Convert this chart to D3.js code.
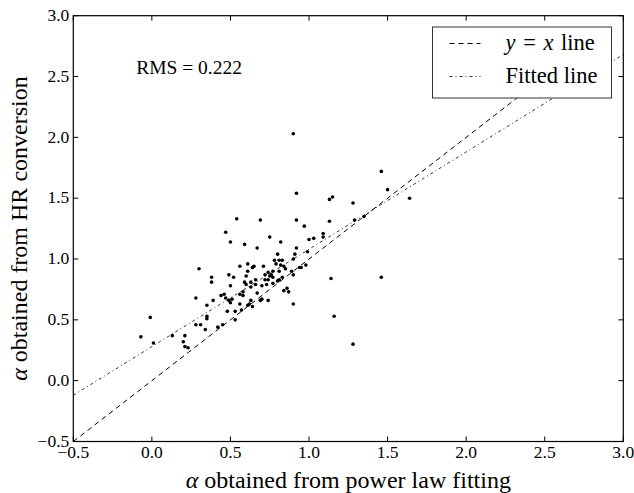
<!DOCTYPE html>
<html lang="en">
<head>
<meta charset="utf-8">
<title>alpha comparison</title>
<script src="https://d3js.org/d3.v7.min.js"></script>
<style>
    body { margin: 0; background: #fff; }
    svg text { font-family: "Liberation Serif", "Times New Roman", Times, serif; fill: #000; }
    .tick-label { font-size: 17.5px; }
    .axis-title { font-size: 24px; }
    .legend-text { font-size: 22.5px; }
</style>
</head>
<body>
<script>

// values
let alphaPowerLaw = [
    0.90, 0.92, 1.13, 1.15, 0.54, 0.69, 0.92, 0.97, 1.13, 0.47,
    0.50, 0.59, 0.75, 0.82, 0.67, 1.00, 1.03, 1.09, 1.09, 0.92,
    0.91, 0.99, 0.80, 0.30, 0.38, 0.38, 0.56, 0.61, 0.64, 0.65,
    0.71, 0.78, 0.81, 0.83, 0.82, 0.84, 0.85, 0.90, 0.89, 0.94,
    0.95, 0.98, 0.49, 0.52, 0.50, 0.61, 0.60, 0.59, 0.60, 0.63,
    0.66, 0.66, 0.63, 0.70, 0.72, 0.73, 0.74, 0.75, 0.76, 0.77,
    0.74, 0.72, 0.77, 0.80, 0.81, 0.83, 0.84, 0.86, 0.87, 0.90,
    0.90, 0.44, 0.46, 0.47, 0.49, 0.50, 0.51, 0.56, 0.58, 0.58,
    0.56, 0.48, 0.53, 0.53, 0.61, 0.62, 0.63, 0.64, 0.69, 0.70,
    0.67, 0.74, 0.57, 0.35, 0.39, 0.28, 0.35, 0.35, 0.34, 0.28,
    0.31, 0.42, 0.45, -0.01, 0.13, 0.21, 0.20, 0.21, 0.23, -0.07,
    0.01, 1.14, 1.16, 1.46, 1.50, 1.64, 1.28, 1.29, 1.35, 1.46,
    1.28, 0.77, 0.81, 0.79
];
let alphaHR = [
    2.03, 1.54, 1.49, 1.51, 1.33, 1.32, 1.32, 1.27, 1.31, 1.22,
    1.14, 1.12, 1.18, 1.14, 1.09, 1.16, 1.17, 1.21, 1.18, 1.09,
    1.04, 1.06, 1.04, 0.92, 0.85, 0.81, 0.94, 0.96, 0.93, 0.94,
    0.94, 0.99, 0.99, 0.99, 0.95, 0.94, 0.92, 1.00, 0.90, 0.93,
    0.93, 0.95, 0.87, 0.85, 0.78, 0.90, 0.86, 0.81, 0.79, 0.81,
    0.83, 0.79, 0.77, 0.78, 0.83, 0.79, 0.83, 0.86, 0.87, 0.85,
    0.89, 0.87, 0.80, 0.82, 0.83, 0.85, 0.74, 0.76, 0.73, 0.63,
    0.87, 0.70, 0.71, 0.68, 0.66, 0.64, 0.67, 0.71, 0.73, 0.70,
    0.63, 0.57, 0.57, 0.50, 0.62, 0.63, 0.66, 0.61, 0.66, 0.67,
    0.72, 0.66, 0.58, 0.62, 0.66, 0.68, 0.53, 0.51, 0.42, 0.46,
    0.46, 0.44, 0.46, 0.52, 0.37, 0.37, 0.32, 0.28, 0.27, 0.36,
    0.31, 0.84, 0.53, 1.72, 1.57, 1.50, 1.46, 1.32, 1.35, 0.85,
    0.30, 0.90, 0.90, 0.96
];

let xTicks = [-0.5, 0.0, 0.5, 1.0, 1.5, 2.0, 2.5, 3.0];
let yTicks = [-0.5, 0.0, 0.5, 1.0, 1.5, 2.0, 2.5, 3.0];
let axisMin = -0.5, axisMax = 3.0;

// y = x reference runs up under the legend box
let identityRange = [-0.5, 2.7];

// fitted line y = a*x + b
let fitSlope = 0.80,
    fitIntercept = 0.28;
let rmsText = "RMS = 0.222";

let realW = 634, realH = 493;
let margin = { top: 15.7, right: 10.7, bottom: 51.5, left: 73.3 };
let w = realW - margin.left - margin.right,
    h = realH - margin.top - margin.bottom;

let xScale = d3.scaleLinear().domain([axisMin, axisMax]).range([0, w]);
let yScale = d3.scaleLinear().domain([axisMin, axisMax]).range([h, 0]);

let fmt = d => d3.format(".1f")(d).replace("-", "\u2212");

let svg = d3.select("body")
    .append("svg")
    .attr("width", realW)
    .attr("height", realH)
    .style("display", "block");

let g = svg.append("g")
    .attr("transform", "translate(" + margin.left + "," + margin.top + ")");

// reference lines
let line = d3.line().x(d => xScale(d[0])).y(d => yScale(d[1]));

g.append("path")
    .datum(identityRange.map(x => [x, x]))
    .attr("d", line)
    .attr("fill", "none")
    .attr("stroke", "#000")
    .attr("stroke-width", 1)
    .attr("stroke-dasharray", "5,4");

g.append("path")
    .datum([axisMin, axisMax].map(x => [x, fitSlope * x + fitIntercept]))
    .attr("d", line)
    .attr("fill", "none")
    .attr("stroke", "#000")
    .attr("stroke-width", 0.8)
    .attr("stroke-dasharray", "3,3,1,3");

// points
g.selectAll("circle.pt")
    .data(alphaPowerLaw.map((x, i) => [x, alphaHR[i]]))
    .enter()
    .append("circle")
    .attr("class", "pt")
    .attr("cx", d => xScale(d[0]))
    .attr("cy", d => yScale(d[1]))
    .attr("r", 1.8)
    .attr("fill", "#000");

// ticks on all four sides, pointing inward
let tickLen = 5;
let ticks = g.append("g").attr("stroke", "#000").attr("stroke-width", 1);
xTicks.forEach(t => {
    let x = xScale(t);
    ticks.append("line").attr("x1", x).attr("x2", x).attr("y1", h).attr("y2", h - tickLen);
    ticks.append("line").attr("x1", x).attr("x2", x).attr("y1", 0).attr("y2", tickLen);
});
yTicks.forEach(t => {
    let y = yScale(t);
    ticks.append("line").attr("x1", 0).attr("x2", tickLen).attr("y1", y).attr("y2", y);
    ticks.append("line").attr("x1", w).attr("x2", w - tickLen).attr("y1", y).attr("y2", y);
});

g.selectAll("text.xt")
    .data(xTicks)
    .enter()
    .append("text")
    .attr("class", "tick-label xt")
    .attr("x", d => xScale(d))
    .attr("y", h + 17)
    .attr("text-anchor", "middle")
    .text(fmt);

g.selectAll("text.yt")
    .data(yTicks)
    .enter()
    .append("text")
    .attr("class", "tick-label yt")
    .attr("x", -4)
    .attr("y", d => yScale(d))
    .attr("dy", "0.3em")
    .attr("text-anchor", "end")
    .text(fmt);

// frame
g.append("rect")
    .attr("width", w)
    .attr("height", h)
    .attr("fill", "none")
    .attr("stroke", "#000")
    .attr("stroke-width", 1.2);

// RMS note
g.append("text")
    .attr("x", xScale(-0.1))
    .attr("y", yScale(2.52))
    .style("font-size", "19.5px")
    .text(rmsText);

// legend
let lg = svg.append("g").attr("transform", "translate(432.5,27)");
lg.append("rect")
    .attr("width", 179)
    .attr("height", 71)
    .attr("fill", "#fff")
    .attr("stroke", "#333")
    .attr("stroke-width", 1);

lg.append("line")
    .attr("x1", 17).attr("x2", 48).attr("y1", 16.5).attr("y2", 16.5)
    .attr("stroke", "#000").attr("stroke-dasharray", "5,4");
lg.append("line")
    .attr("x1", 17).attr("x2", 48).attr("y1", 49.5).attr("y2", 49.5)
    .attr("stroke", "#000").attr("stroke-width", 0.8).attr("stroke-dasharray", "3,3,1,3");

let t1 = lg.append("text")
    .attr("class", "legend-text")
    .attr("x", 73).attr("y", 23)
    .style("word-spacing", "2px");
t1.append("tspan").style("font-style", "italic").text("y");
t1.append("tspan").text(" = ");
t1.append("tspan").style("font-style", "italic").text("x");
t1.append("tspan").text(" line");

lg.append("text")
    .attr("class", "legend-text")
    .attr("x", 73).attr("y", 56)
    .text("Fitted line");

// axis titles
let xt = svg.append("text")
    .attr("class", "axis-title")
    .attr("x", margin.left + w / 2)
    .attr("y", 488)
    .attr("text-anchor", "middle");
xt.append("tspan").style("font-style", "italic").text("\u03b1");
xt.append("tspan").text(" obtained from power law fitting");

let yt = svg.append("text")
    .attr("class", "axis-title")
    .attr("transform", "translate(27," + (margin.top + h / 2) + ") rotate(-90)")
    .attr("text-anchor", "middle");
yt.append("tspan").style("font-style", "italic").text("\u03b1");
yt.append("tspan").text(" obtained from HR conversion");

</script>
</body>
</html>
